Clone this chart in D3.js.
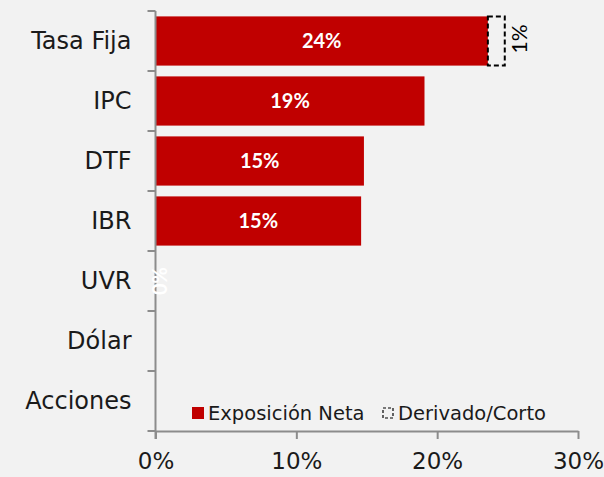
<!DOCTYPE html>
<html>
<head>
<meta charset="utf-8">
<script src="https://cdn.jsdelivr.net/npm/d3@7"></script>
<style>
  body { margin: 0; background: #f2f2f2; }
  svg { display: block; font-family: "DejaVu Sans", sans-serif; }
</style>
</head>
<body>
<div id="chart"></div>
<script>
const categories = ['Tasa Fija', 'IPC', 'DTF', 'IBR', 'UVR', 'Dólar', 'Acciones'];
const exposicionNeta = [23.6, 19.1, 14.8, 14.6, 0, null, null];
const derivadoCorto = [1.2, null, null, null, null, null, null];
const netaLabels = ['24%', '19%', '15%', '15%', '0%', '', ''];
const derivadoLabels = ['1%', '', '', '', '', '', ''];
const xTicks = [0, 10, 20, 30];

const width = 604, height = 477;
const margin = {top: 11, right: 26, bottom: 46, left: 155.5};

const svg = d3.select('#chart').append('svg')
    .attr('width', width)
    .attr('height', height);

svg.append('rect').attr('width', width).attr('height', height).attr('fill', '#f2f2f2');

const x = d3.scaleLinear()
    .domain([0, 30])
    .range([margin.left, width - margin.right]);

const y = d3.scaleBand()
    .domain(categories)
    .range([margin.top, height - margin.bottom])
    .paddingInner(0.18)
    .paddingOuter(0.09);

const rows = categories.map((c, i) => ({
  cat: c, neta: exposicionNeta[i], der: derivadoCorto[i],
  netaLabel: netaLabels[i], derLabel: derivadoLabels[i]
}));

// bars
svg.selectAll('.bar')
    .data(rows.filter(d => d.neta))
  .join('rect')
    .attr('class', 'bar')
    .attr('x', x(0))
    .attr('y', d => y(d.cat))
    .attr('width', d => x(d.neta) - x(0))
    .attr('height', y.bandwidth())
    .attr('fill', '#c00000');

// derivative dashed box
svg.selectAll('.der')
    .data(rows.filter(d => d.der))
  .join('rect')
    .attr('class', 'der')
    .attr('x', d => x(d.neta))
    .attr('y', d => y(d.cat))
    .attr('width', d => x(d.neta + d.der) - x(d.neta))
    .attr('height', y.bandwidth())
    .attr('fill', 'none')
    .attr('stroke', '#000')
    .attr('stroke-width', 2)
    .attr('stroke-dasharray', '5,3');

// value labels inside bars
svg.selectAll('.bar-label')
    .data(rows.filter(d => d.neta))
  .join('text')
    .attr('class', 'bar-label')
    .attr('x', d => (x(0) + x(d.neta)) / 2)
    .attr('y', d => y(d.cat) + y.bandwidth() / 2)
    .attr('dy', '.35em')
    .attr('text-anchor', 'middle')
    .attr('fill', '#fff')
    .attr('font-family', 'Lato, sans-serif')
    .attr('font-weight', 'bold')
    .attr('font-size', 20)
    .text(d => d.netaLabel);

// derivative label (rotated)
svg.selectAll('.der-label')
    .data(rows.filter(d => d.der))
  .join('text')
    .attr('class', 'der-label')
    .attr('transform', d => `translate(${x(d.neta + d.der) + 15},${y(d.cat) + y.bandwidth() / 2 - 2}) rotate(-90)`)
    .attr('dy', '.35em')
    .attr('text-anchor', 'middle')
    .attr('fill', '#000')
    .attr('font-family', 'Lato, sans-serif')
    .attr('font-size', 21)
    .text(d => d.derLabel);

// axes
const axisColor = '#8c8c8c';

const yAxis = svg.append('g');
yAxis.append('line')
    .attr('x1', x(0)).attr('x2', x(0))
    .attr('y1', margin.top).attr('y2', height - margin.bottom + 8)
    .attr('stroke', axisColor).attr('stroke-width', 2);
const bounds = categories.map(c => y(c) - y.step() * y.paddingInner() / 2);
bounds.push(height - margin.bottom);
bounds[0] = margin.top;
yAxis.selectAll('.ytick')
    .data(bounds)
  .join('line')
    .attr('x1', x(0) - 8).attr('x2', x(0))
    .attr('y1', d => d).attr('y2', d => d)
    .attr('stroke', axisColor).attr('stroke-width', 2);

yAxis.selectAll('.cat-label')
    .data(categories)
  .join('text')
    .attr('x', x(0) - 24)
    .attr('y', d => y(d) + y.bandwidth() / 2)
    .attr('dy', '.35em')
    .attr('text-anchor', 'end')
    .attr('font-size', 24)
    .attr('fill', '#1a1a1a')
    .text(d => d);

const xAxis = svg.append('g')
    .attr('transform', `translate(0,${height - margin.bottom})`)
    .call(d3.axisBottom(x).tickValues(xTicks).tickSize(8).tickSizeOuter(0).tickFormat(d => d + '%'));
xAxis.select('.domain').attr('stroke', axisColor).attr('stroke-width', 2);
xAxis.selectAll('.tick line').attr('stroke', axisColor).attr('stroke-width', 2);
xAxis.selectAll('.tick text')
    .attr('font-family', '"DejaVu Sans", sans-serif')
    .attr('font-size', 23)
    .attr('fill', '#1a1a1a')
    .attr('y', 22);

// zero label (rotated), drawn over the axis line
svg.selectAll('.zero-label')
    .data(rows.filter(d => d.neta === 0))
  .join('text')
    .attr('class', 'zero-label')
    .attr('transform', d => `translate(${x(0) + 4},${y(d.cat) + y.bandwidth() / 2}) rotate(-90)`)
    .attr('dy', '.35em')
    .attr('text-anchor', 'middle')
    .attr('fill', '#fff')
    .attr('font-family', 'Lato, sans-serif')
    .attr('font-weight', 'bold')
    .attr('font-size', 20)
    .text(d => d.netaLabel);

// legend
const legend = svg.append('g')
    .attr('transform', `translate(192,${height - margin.bottom - 18})`);
legend.append('rect')
    .attr('x', 0).attr('y', -6).attr('width', 12).attr('height', 12)
    .attr('fill', '#c00000');
legend.append('text')
    .attr('x', 16).attr('dy', '.35em')
    .attr('font-size', 19.5).attr('fill', '#1a1a1a')
    .text('Exposición Neta');
legend.append('rect')
    .attr('x', 191).attr('y', -5).attr('width', 10).attr('height', 10)
    .attr('fill', 'none').attr('stroke', '#000').attr('stroke-width', 1.2)
    .attr('stroke-dasharray', '3,2');
legend.append('text')
    .attr('x', 206).attr('dy', '.35em')
    .attr('font-size', 19.5).attr('fill', '#1a1a1a')
    .text('Derivado/Corto');
</script>
</body>
</html>
